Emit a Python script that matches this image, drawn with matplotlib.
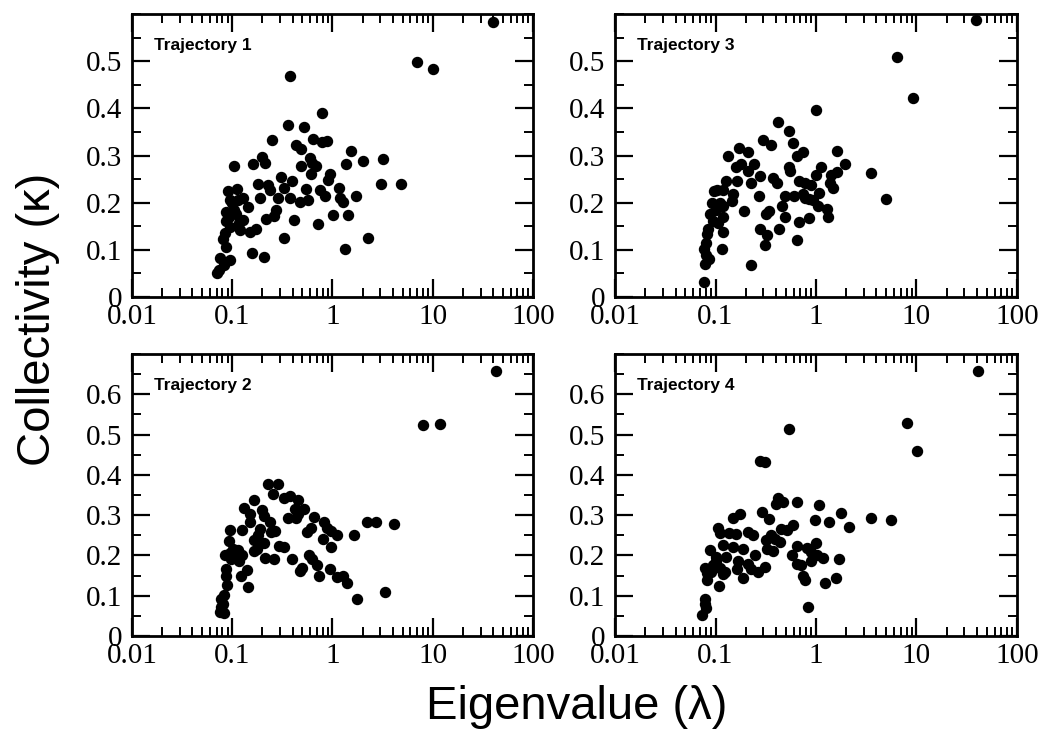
import matplotlib
matplotlib.use("Agg")
import matplotlib.pyplot as plt
from matplotlib.ticker import LogLocator, MultipleLocator, FixedLocator, FixedFormatter

# Trajectory 1 (top left)
x1 = [40, 7.0, 10.0, 0.374, 0.79, 0.357, 0.517, 0.251, 0.64, 0.79, 0.885, 0.43, 0.486,
      1.54, 0.20, 0.21, 0.163, 2.03, 3.21, 1.38, 0.593, 0.63, 0.68, 0.105, 0.48, 0.955,
      0.61, 0.307, 0.91, 0.398, 0.179, 0.225, 3.07, 4.86, 0.326, 0.236, 0.54, 1.17,
      0.111, 0.09, 0.747, 1.71, 0.845, 1.2, 0.188, 0.288, 0.38, 0.567, 0.471, 1.26,
      0.128, 0.094, 0.144, 0.275, 0.087, 1.01, 1.42, 0.109, 0.264, 0.219, 0.41, 0.128,
      0.713, 0.087, 0.117, 0.094, 0.119, 0.171, 0.149, 0.084, 0.33, 2.26, 0.081, 0.086,
      1.32, 0.158, 0.209, 0.076, 0.094, 0.083, 0.074, 0.071, 0.1, 0.113, 0.092, 0.105]
y1 = [0.583, 0.499, 0.484, 0.468, 0.39, 0.365, 0.36, 0.332, 0.335, 0.328, 0.33, 0.323, 0.313,
      0.309, 0.296, 0.285, 0.282, 0.289, 0.292, 0.282, 0.295, 0.284, 0.278, 0.277, 0.277, 0.261,
      0.26, 0.254, 0.248, 0.247, 0.24, 0.237, 0.24, 0.24, 0.231, 0.228, 0.23, 0.231,
      0.23, 0.224, 0.226, 0.214, 0.214, 0.211, 0.21, 0.21, 0.21, 0.206, 0.201, 0.201,
      0.209, 0.206, 0.19, 0.184, 0.18, 0.174, 0.173, 0.177, 0.172, 0.166, 0.163, 0.163,
      0.155, 0.161, 0.156, 0.149, 0.142, 0.145, 0.138, 0.135, 0.126, 0.125, 0.123, 0.106,
      0.102, 0.094, 0.084, 0.082, 0.078, 0.067, 0.058, 0.051, 0.199, 0.206, 0.17, 0.185]

# Trajectory 3 (top right)
x3 = [39.4, 6.46, 9.33, 1.0, 0.418, 0.534, 0.594, 0.294, 0.353, 0.17, 0.21, 1.61, 0.736,
      0.642, 0.133, 1.93, 0.241, 0.18, 0.16, 1.13, 0.542, 0.21, 0.55, 3.5, 1.63, 1.42,
      0.99, 0.277, 0.37, 0.162, 0.128, 0.672, 0.405, 0.227, 0.77, 0.9, 1.38, 1.47,
      0.097, 0.104, 0.119, 0.15, 0.271, 0.494, 0.604, 0.748, 1.06, 0.78, 0.86, 0.94,
      4.99, 0.146, 0.092, 0.458, 1.05, 1.28, 0.119, 0.192, 0.337, 0.32, 0.494, 1.32,
      0.86, 0.088, 0.119, 0.682, 0.095, 0.107, 0.12, 0.277, 0.431, 0.327, 0.084, 0.082,
      0.652, 0.308, 0.081, 0.077, 0.116, 0.081, 0.086, 0.079, 0.227, 0.077, 0.1, 0.11]
y3 = [0.587, 0.508, 0.423, 0.396, 0.372, 0.352, 0.327, 0.332, 0.323, 0.315, 0.308, 0.31, 0.307,
      0.299, 0.299, 0.282, 0.283, 0.283, 0.275, 0.275, 0.275, 0.268, 0.268, 0.263, 0.265, 0.259,
      0.258, 0.256, 0.252, 0.246, 0.245, 0.245, 0.242, 0.242, 0.242, 0.238, 0.242, 0.232,
      0.224, 0.227, 0.227, 0.218, 0.214, 0.215, 0.214, 0.218, 0.221, 0.21, 0.208, 0.206,
      0.208, 0.203, 0.199, 0.193, 0.194, 0.187, 0.192, 0.183, 0.182, 0.176, 0.17, 0.169,
      0.168, 0.176, 0.17, 0.159, 0.162, 0.156, 0.137, 0.144, 0.144, 0.131, 0.145, 0.134,
      0.121, 0.11, 0.115, 0.101, 0.101, 0.09, 0.08, 0.07, 0.068, 0.031, 0.185, 0.2]

# Trajectory 2 (bottom left)
x2 = [43, 8.07, 11.7, 0.229, 0.284, 0.255, 0.331, 0.374, 0.457, 0.166, 0.132, 0.196, 0.423,
      0.525, 0.45, 0.149, 0.65, 0.363, 0.437, 0.209, 0.236, 0.149, 2.22, 2.71, 4.1,
      0.832, 0.884, 0.612, 0.126, 0.094, 0.188, 0.268, 0.243, 0.558, 0.97, 1.1, 1.63,
      0.182, 0.164, 0.092, 0.807, 0.209, 0.293, 0.331, 0.97, 0.102, 0.113, 0.084, 0.126,
      0.164, 0.177, 0.212, 0.259, 0.392, 0.584, 0.631, 0.097, 0.117, 0.703, 0.493, 0.478,
      0.94, 1.1, 1.26, 1.4, 0.736, 0.087, 0.123, 0.14, 0.086, 0.145, 0.088, 1.74, 3.31,
      0.082, 0.078, 0.081, 0.077, 0.075, 0.083, 0.095, 0.108]
y2 = [0.657, 0.523, 0.527, 0.377, 0.378, 0.353, 0.342, 0.347, 0.338, 0.337, 0.317, 0.312, 0.315,
      0.315, 0.302, 0.302, 0.295, 0.292, 0.292, 0.298, 0.283, 0.283, 0.283, 0.283, 0.277,
      0.282, 0.268, 0.267, 0.263, 0.263, 0.265, 0.26, 0.257, 0.258, 0.26, 0.252, 0.252,
      0.25, 0.238, 0.235, 0.242, 0.232, 0.223, 0.222, 0.22, 0.217, 0.213, 0.202, 0.202,
      0.212, 0.215, 0.193, 0.19, 0.192, 0.202, 0.192, 0.192, 0.187, 0.177, 0.17, 0.162,
      0.167, 0.147, 0.15, 0.132, 0.148, 0.167, 0.15, 0.165, 0.15, 0.122, 0.127, 0.093, 0.11,
      0.102, 0.092, 0.08, 0.072, 0.06, 0.058, 0.205, 0.2]

# Trajectory 4 (bottom right)
x4 = [41.2, 8.13, 10.1, 0.542, 0.277, 0.308, 0.418, 0.466, 0.4, 0.642, 1.06, 0.29, 1.79,
      0.175, 0.15, 0.337, 0.97, 1.36, 3.56, 5.63, 2.12, 0.585, 0.45, 0.51, 0.106, 0.111,
      0.16, 0.137, 0.21, 0.234, 0.359, 0.317, 0.387, 0.437, 1.0, 0.119, 0.15, 0.652,
      0.189, 0.089, 0.81, 0.327, 0.375, 0.885, 1.03, 0.249, 0.576, 1.18, 1.68, 0.9,
      0.102, 0.128, 0.169, 0.21, 0.652, 0.703, 0.079, 0.095, 0.112, 0.162, 0.227, 0.308,
      0.263, 0.083, 0.119, 0.75, 0.189, 1.58, 0.083, 0.77, 1.24, 0.109, 0.078, 0.079,
      0.081, 0.074, 0.833, 0.1, 0.125, 0.09]
y4 = [0.658, 0.53, 0.46, 0.515, 0.435, 0.432, 0.343, 0.333, 0.327, 0.332, 0.325, 0.307, 0.305,
      0.302, 0.292, 0.29, 0.288, 0.282, 0.293, 0.288, 0.27, 0.275, 0.265, 0.262, 0.267, 0.255,
      0.253, 0.255, 0.257, 0.25, 0.25, 0.238, 0.24, 0.233, 0.232, 0.225, 0.222, 0.223,
      0.217, 0.213, 0.218, 0.217, 0.21, 0.208, 0.202, 0.202, 0.202, 0.193, 0.19, 0.187,
      0.195, 0.197, 0.187, 0.18, 0.18, 0.177, 0.168, 0.177, 0.17, 0.167, 0.167, 0.172,
      0.158, 0.157, 0.153, 0.15, 0.143, 0.143, 0.138, 0.138, 0.132, 0.125, 0.093, 0.08,
      0.07, 0.053, 0.073, 0.185, 0.16, 0.16]

panels = [
    ("Trajectory 1", x1, y1, [0.1264, 0.5986, 0.3841, 0.3824], 0.6),
    ("Trajectory 3", x3, y3, [0.5891, 0.5986, 0.3850, 0.3824], 0.6),
    ("Trajectory 2", x2, y2, [0.1264, 0.1405, 0.3841, 0.3811], 0.7),
    ("Trajectory 4", x4, y4, [0.5891, 0.1405, 0.3850, 0.3811], 0.7),
]

fig = plt.figure(figsize=(10.44, 7.40), dpi=100)

for title, xs, ys, pos, ytop in panels:
    ax = fig.add_axes(pos)
    ax.plot(xs, ys, 'o', color='black', markersize=7.2, clip_on=False)
    ax.set_xscale('log')
    ax.set_xlim(0.01, 100)
    ax.set_ylim(0, ytop)
    ax.xaxis.set_major_locator(FixedLocator([0.01, 0.1, 1, 10, 100]))
    ax.xaxis.set_major_formatter(FixedFormatter(["0.01", "0.1", "1", "10", "100"]))
    ax.xaxis.set_minor_locator(LogLocator(base=10, subs=range(2, 10)))
    yt = [i / 10 for i in range(int(round(ytop * 10)))]
    ax.set_yticks(yt)
    ax.set_yticklabels(["0" if v == 0 else f"{v:.1f}" for v in yt])
    ax.yaxis.set_minor_locator(MultipleLocator(0.05))
    ax.tick_params(which='both', direction='in', top=True, right=True, width=1.6)
    ax.tick_params(which='major', length=13)
    ax.tick_params(which='minor', length=6.5, width=1.4)
    ax.tick_params(axis='y', which='major', pad=7)
    ax.tick_params(axis='x', which='major', pad=5)
    for lab in ax.get_xticklabels() + ax.get_yticklabels():
        lab.set_fontfamily('Liberation Serif')
        lab.set_fontsize(21)
    for sp in ax.spines.values():
        sp.set_linewidth(2)
    ax.text(0.055, 0.89, title, transform=ax.transAxes, fontsize=12.5,
            fontweight='bold', family='Liberation Sans', va='center', ha='left')

fig.text(0.036, 0.568, "Collectivity (\u03ba)", rotation=90, fontsize=34,
         family='Liberation Sans', ha='center', va='center')
fig.text(0.552, 0.045, "Eigenvalue (\u03bb)", fontsize=34,
         family='Liberation Sans', ha='center', va='center')

fig.savefig("out.png", dpi=100)
